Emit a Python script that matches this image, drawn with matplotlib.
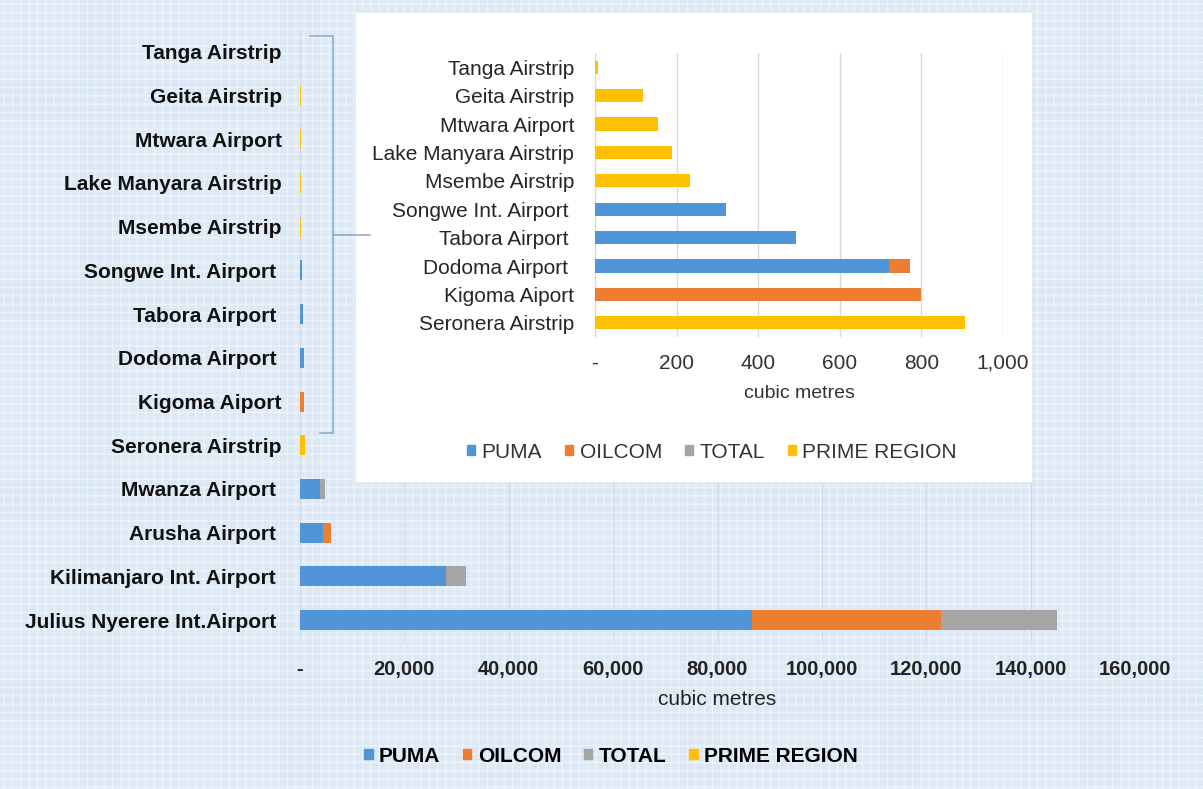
import numpy as np
import matplotlib.pyplot as plt
from matplotlib.patches import Rectangle, Patch
from matplotlib.lines import Line2D
from matplotlib.ticker import FuncFormatter

# airports, bottom to top (Excel order)
airports = ["Julius Nyerere Int.Airport ", "Kilimanjaro Int. Airport ", "Arusha Airport ",
            "Mwanza Airport ", "Seronera Airstrip", "Kigoma Aiport", "Dodoma Airport ",
            "Tabora Airport ", "Songwe Int. Airport ", "Msembe Airstrip",
            "Lake Manyara Airstrip", "Mtwara Airport", "Geita Airstrip", "Tanga Airstrip"]
puma = [86700, 27900, 4400, 3900, 0, 0, 720, 493, 322, 0, 0, 0, 0, 0]
oilcom = [36200, 0, 1600, 0, 0, 800, 53, 0, 0, 0, 0, 0, 0, 0]
total = [22200, 3900, 0, 800, 0, 0, 0, 0, 0, 0, 0, 0, 0, 0]
prime = [0, 0, 0, 0, 907, 0, 0, 0, 0, 232, 188, 154, 117, 8]

series = ["PUMA", "OILCOM", "TOTAL", "PRIME REGION"]
colors = ["#4f95d8", "#ed7d31", "#a5a5a5", "#ffc000"]

main_ticks = [0, 20000, 40000, 60000, 80000, 100000, 120000, 140000, 160000]
inset_ticks = [0, 200, 400, 600, 800, 1000]
n_inset = 10  # smallest airports shown in the zoom box

W, H = 1203, 789


def px(x, y):
    return x / W, 1 - y / H


def fmt(v, pos):
    return "-" if v == 0 else f"{int(v):,}"


def stacked(ax, names, cols, height):
    y = np.arange(len(names))
    left = np.zeros(len(names))
    for vals, c in zip(cols, colors):
        vals = np.array(vals, dtype=float)
        ax.barh(y, vals, left=left, height=height, color=c, zorder=3)
        left += vals
    return y


plt.rcParams['font.family'] = ['Liberation Sans', 'DejaVu Sans']
fig = plt.figure(figsize=(W / 100, H / 100), dpi=100, facecolor="#dce8f5")

# textured background
fig.add_artist(Rectangle((0, 0), 1, 1, transform=fig.transFigure, facecolor="none",
                         edgecolor="#edf3fa", hatch="++", lw=0, zorder=-1))

# main chart
ax = fig.add_axes([300 / W, 1 - 642 / H, 835 / W, 612 / H])
ax.set_facecolor("none")
y = stacked(ax, airports, [puma, oilcom, total, prime], 0.46)
ax.set_xlim(0, 160000)
ax.set_ylim(-0.5, len(airports) - 0.5)
ax.set_yticks(y)
ax.set_yticklabels(airports, fontsize=15, fontweight="bold", color="#111111")
ax.set_xticks(main_ticks)
ax.xaxis.set_major_formatter(FuncFormatter(fmt))
for t in ax.get_xticklabels():
    t.set_fontweight("bold")
ax.tick_params(axis="x", length=0, labelsize=14.5, pad=13, colors="#222222")
ax.tick_params(axis="y", length=0, pad=13)
ax.grid(axis="x", color="#cddbec", lw=0.8, zorder=0)
for s in ax.spines.values():
    s.set_visible(False)
ax.set_xlabel("cubic metres", fontsize=15, color="#222222", labelpad=8)
handles = [Patch(color=c, label=s) for s, c in zip(series, colors)]
fig.legend(handles=handles, loc="center", bbox_to_anchor=px(611, 756), ncol=4,
           frameon=False, handlelength=0.4, handleheight=0.4, handletextpad=0.3,
           columnspacing=1.1, prop={"size": 15, "weight": "bold"})

# white zoom box
fig.add_artist(Rectangle(px(355, 482), 677 / W, 470 / H, transform=fig.transFigure,
                         facecolor="white", edgecolor="#e6e6e6", lw=0.6, zorder=0.5))

# bracket
bc = "#8aa6c8"
for xs, ys in [([310, 333, 333, 320], [36, 36, 433, 433]), ([333, 370], [235, 235])]:
    pts = [px(a, b) for a, b in zip(xs, ys)]
    fig.add_artist(Line2D([p[0] for p in pts], [p[1] for p in pts],
                          transform=fig.transFigure, color=bc, lw=1.1, zorder=2))

# inset chart
ax2 = fig.add_axes([595 / W, 1 - 337 / H, 408 / W, 284 / H], zorder=1)
ax2.set_facecolor("none")
sub = [puma[4:], oilcom[4:], total[4:], prime[4:]]
y2 = stacked(ax2, airports[4:], sub, 0.47)
ax2.set_xlim(0, 1000)
ax2.set_ylim(-0.5, n_inset - 0.5)
ax2.set_yticks(y2)
ax2.set_yticklabels(airports[4:], fontsize=15, color="#262626")
ax2.set_xticks(inset_ticks)
ax2.xaxis.set_major_formatter(FuncFormatter(fmt))
ax2.tick_params(axis="x", length=0, labelsize=15, pad=12, colors="#333333")
ax2.tick_params(axis="y", length=0, pad=15)
ax2.grid(axis="x", color="#d9d9d9", lw=1, zorder=0)
for k, s in ax2.spines.items():
    s.set_visible(k == "left")
ax2.spines["left"].set_color("#d9d9d9")
ax2.set_xlabel("cubic metres", fontsize=14, color="#333333", labelpad=9)
fig.legend(handles=handles, loc="center", bbox_to_anchor=px(712, 452), ncol=4,
           frameon=False, handlelength=0.4, handleheight=0.4, handletextpad=0.3,
           columnspacing=1.1, prop={"size": 15}, labelcolor="#333333")

fig.savefig("out.png", dpi=100, facecolor=fig.get_facecolor())
